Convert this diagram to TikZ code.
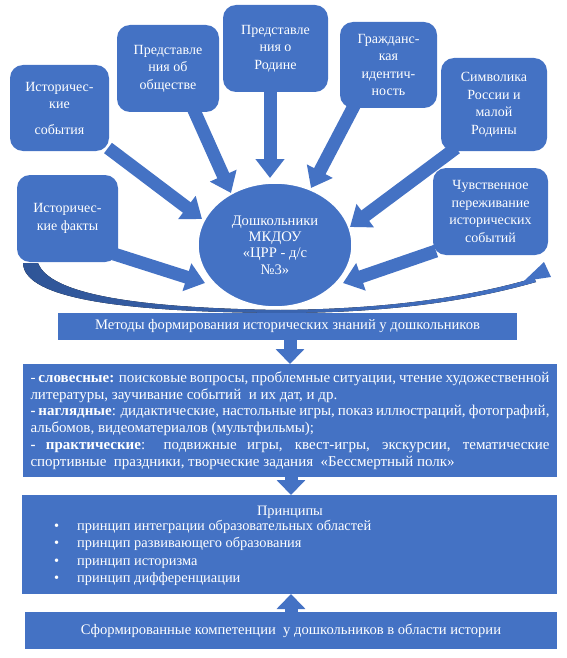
\documentclass[tikz,border=0pt]{standalone}
\usepackage{fontspec}
\setmainfont{Liberation Serif}
\newfontfamily\tnr{Liberation Serif}
\usetikzlibrary{arrows.meta,shapes.geometric}
\definecolor{myblue}{HTML}{4472C4}
\definecolor{darkblu}{HTML}{2F5597}
\begin{document}
\begin{tikzpicture}[x=1pt,y=-1pt,
  rbox/.style={fill=myblue, rounded corners=13pt, inner sep=0pt, text=white, align=center,
    font=\tnr\fontsize{14}{17.5}\selectfont},
  sbox/.style={fill=myblue, inner sep=0pt, text=white, font=\tnr\fontsize{14.6}{16.8}\selectfont},
  txt/.style={inner sep=0pt, text=white, font=\tnr\fontsize{14.4}{16.8}\selectfont},
  barrow/.style={line width=13pt, draw=myblue, -{Triangle[width=28pt,length=19pt]}},
  sarrow/.style={line width=13pt, draw=myblue, -{Triangle[width=28pt,length=15pt]}}
]
\useasboundingbox (0,0) rectangle (567,658);

% curved arrow under the circle
\fill[left color=darkblu, right color=myblue]
  (23,263) .. controls (24,300) and (130,312) .. (280,313)
  .. controls (400,313) and (480,298) .. (536,282)
  -- (534,278) .. controls (480,294) and (400,309) .. (280,310)
  .. controls (140,308) and (50,295) .. (38,263) -- cycle;
\fill[myblue] (524,281) -- (544,262) -- (551,277) -- cycle;

% arrow end points
\coordinate (a1s) at (108,148); \coordinate (a1t) at (202,219);
\coordinate (a2s) at (193,108); \coordinate (a2t) at (231,193);
\coordinate (a3s) at (270,88);  \coordinate (a3t) at (270,178);
\coordinate (a4s) at (355,104); \coordinate (a4t) at (311,188);
\coordinate (a5s) at (456,148); \coordinate (a5t) at (350,227);
\coordinate (a6s) at (436,251); \coordinate (a6t) at (343,283);
\coordinate (a7s) at (114,254); \coordinate (a7t) at (205,283);

\draw[barrow] (a1s) -- (a1t);
\draw[barrow] (a2s) -- (a2t);
\draw[barrow] (a3s) -- (a3t);
\draw[barrow] (a4s) -- (a4t);
\draw[barrow] (a5s) -- (a5t);
\draw[barrow] (a6s) -- (a6t);
\draw[barrow] (a7s) -- (a7t);

% rounded boxes
\node[rbox, minimum width=99pt, minimum height=86pt] (b1) at (59.5,108)
  {Историчес-\\кие\\[8pt]события};
\node[rbox, minimum width=102pt, minimum height=87pt] (b2) at (168,68.5)
  {Представле\\ния об\\обществе};
\node[rbox, minimum width=105pt, minimum height=87pt] (b3) at (275.5,48.5)
  {Представле\\ния о\\Родине};
\node[rbox, minimum width=97pt, minimum height=86pt] (b4) at (388.5,65)
  {Гражданс-\\кая\\идентич-\\ность};
\node[rbox, minimum width=106pt, minimum height=93pt] (b5) at (494,104.5)
  {Символика\\России и\\малой\\Родины};
\node[rbox, minimum width=101pt, minimum height=87pt] (b6) at (67.5,218.5)
  {Историчес-\\кие факты};
\node[rbox, minimum width=115pt, minimum height=87pt] (b7) at (490.5,211.5)
  {\fontsize{14}{16.5}\selectfont Чувственное\\переживание\\исторических\\событий};

% central ellipse
\node[ellipse, fill=myblue, draw=white, line width=1.5pt, minimum width=154pt,
  minimum height=124pt, inner sep=0pt, text=white, align=center,
  font=\tnr\fontsize{14.6}{16.3}\selectfont] (c) at (275,245)
  {Дошкольники\\МКДОУ\\«ЦРР - д/с\\№3»};

% methods banner
\node[sbox, minimum width=459pt, minimum height=27pt] (ban) at (287.5,326.5)
  {Методы формирования исторических знаний у дошкольников};

% methods text box
\node[sbox, minimum width=534pt, minimum height=113pt, text width=519pt, align=justify,
  font=\tnr\fontsize{15}{16.8}\selectfont] (meth) at (290,420.5)
  {- \textbf{словесные:} поисковые вопросы, проблемные ситуации, чтение художественной\linebreak
   литературы, заучивание событий \ и их дат, и др.\\
   \textbf{- наглядные}: дидактические, настольные игры, показ иллюстраций, фотографий,\linebreak
   альбомов, видеоматериалов (мультфильмы);\\
   \textbf{- практические}: подвижные игры, квест-игры, экскурсии, тематические\linebreak
   спортивные \ праздники, творческие задания \ «Бессмертный полк»};

% principles box
\node[sbox, minimum width=535pt, minimum height=99pt] (pr) at (289.5,544.5) {};
\node[txt] (prt) at (290,512) {Принципы};
\node[txt, anchor=north west, align=left, font=\tnr\fontsize{14.4}{17.3}\selectfont] (prl) at (54,520)
  {\makebox[23pt][l]{•}принцип интеграции образовательных областей\\
   \makebox[23pt][l]{•}принцип развивающего образования\\
   \makebox[23pt][l]{•}принцип историзма\\
   \makebox[23pt][l]{•}принцип дифференциации};

% result box
\node[sbox, minimum width=532pt, minimum height=37pt] (res) at (291,630.5)
  {Сформированные компетенции \ у дошкольников в области истории};

% vertical arrows
\coordinate (m1) at (290,338); \coordinate (m2) at (290,364);
\coordinate (p1) at (291,476); \coordinate (p2) at (291,495);
\coordinate (q1) at (291,613); \coordinate (q2) at (291,594);
\draw[sarrow] (m1) -- (m2);
\draw[sarrow] (p1) -- (p2);
\draw[sarrow] (q1) -- (q2);
\end{tikzpicture}
\end{document}
